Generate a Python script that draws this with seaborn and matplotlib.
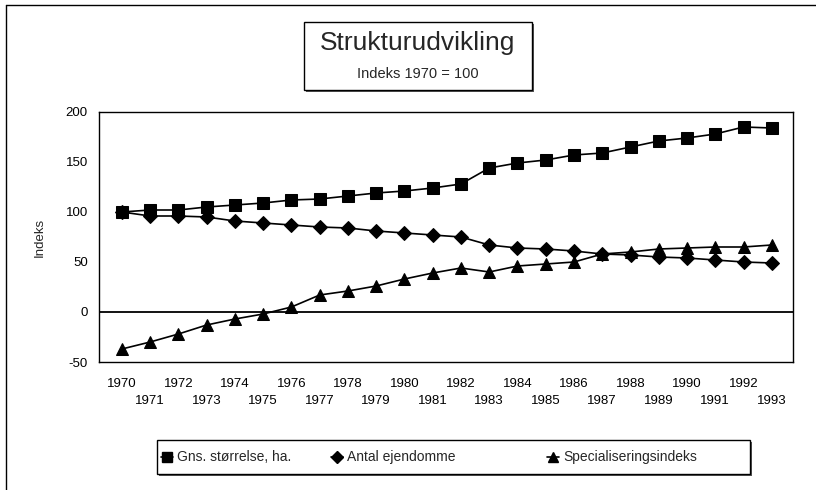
import numpy as np
import pandas as pd
import matplotlib
matplotlib.use("Agg")
import matplotlib.pyplot as plt
import seaborn as sns
from matplotlib.lines import Line2D
from matplotlib.patches import Rectangle

# ---- data ----
years = [str(y) for y in range(1970, 1994)]
gns = [100, 102, 102, 105, 107, 109, 112, 113, 116, 119, 121, 124, 128,
       144, 149, 152, 157, 159, 165, 171, 174, 178, 185, 184]
antal = [100, 96, 96, 95, 91, 89, 87, 85, 84, 81, 79, 77, 75,
         67, 64, 63, 61, 58, 57, 55, 54, 52, 50, 49]
spec = [-37, -30, -22, -13, -7, -2, 5, 17, 21, 26, 33, 39, 44,
        40, 46, 48, 50, 58, 60, 63, 64, 65, 65, 67]
series_names = ["Gns. størrelse, ha.", "Antal ejendomme", "Specialiseringsindeks"]
y_ticks = [-50, 0, 50, 100, 150, 200]
title = "Strukturudvikling"
subtitle = "Indeks 1970 = 100"
ylabel = "Indeks"

sns.set_style("white")
plt.rcParams["font.family"] = ["Liberation Sans", "DejaVu Sans"]

W, H = 816, 490
fig = plt.figure(figsize=(W / 100, H / 100), dpi=100)


def fx(px):
    return px / W


def fy(py):
    return 1 - py / H


ax = fig.add_axes([fx(99), fy(362), fx(793) - fx(99), fy(112) - fy(362)])

n = len(years)
df = pd.DataFrame({
    "pos": np.tile(np.arange(n), 3),
    "value": gns + antal + spec,
    "series": np.repeat(series_names, n),
})
marker_list = ["s", "D", "^"]
sizes = {"s": 8.5, "D": 7.0, "^": 9.0}
sns.lineplot(data=df, x="pos", y="value", hue="series", style="series",
             markers=marker_list, dashes=False, palette=["black"] * 3,
             linewidth=1.2, markersize=8, markeredgecolor="black",
             legend=False, ax=ax)
for line, m in zip(ax.get_lines(), marker_list):
    line.set_markersize(sizes[m])

ax.axhline(0, color="black", linewidth=1.3, zorder=1)
ax.set_xlim(-0.81, 23.75)
ax.set_ylim(-50, 200)
ax.set_yticks(y_ticks)
ax.set_yticklabels([str(v) for v in y_ticks])
ax.set_xticks(np.arange(n))
ax.set_xticklabels([y if i % 2 == 0 else "\n" + y for i, y in enumerate(years)],
                   linespacing=1.6)
ax.tick_params(axis="both", direction="in", length=5, width=0.9, colors="black",
               labelsize=9.5)
ax.tick_params(axis="y", pad=8)
ax.tick_params(axis="x", pad=11.5)
ax.set_xlabel("")
ax.set_ylabel(ylabel, fontsize=9.5, labelpad=14)
for s in ax.spines.values():
    s.set_visible(True)
    s.set_color("black")
    s.set_linewidth(1.0)

# outer chart border (top and left visible in the scan)
fig.add_artist(Line2D([fx(6), fx(816)], [fy(5), fy(5)], color="black",
                      linewidth=1.0, transform=fig.transFigure))
fig.add_artist(Line2D([fx(6), fx(6)], [fy(5), fy(490)], color="black",
                      linewidth=1.0, transform=fig.transFigure))

# title box with shadow
tx0, tx1, ty0, ty1 = 304, 532, 22, 90
fig.add_artist(Rectangle((fx(tx0 + 2), fy(ty1 + 2)), fx(tx1) - fx(tx0), fy(ty0) - fy(ty1),
                         transform=fig.transFigure, facecolor="#555555",
                         edgecolor="none", zorder=2))
fig.add_artist(Rectangle((fx(tx0), fy(ty1)), fx(tx1) - fx(tx0), fy(ty0) - fy(ty1),
                         transform=fig.transFigure, facecolor="white",
                         edgecolor="black", linewidth=1.0, zorder=3))
fig.text(fx((tx0 + tx1) / 2), fy(43), title, ha="center", va="center",
         fontsize=19, zorder=4)
fig.text(fx((tx0 + tx1) / 2), fy(74), subtitle, ha="center", va="center",
         fontsize=10.5, zorder=4)

# legend box with shadow
lx0, lx1, ly0, ly1 = 157, 750, 440, 474
fig.add_artist(Rectangle((fx(lx0 + 2), fy(ly1 + 2)), fx(lx1) - fx(lx0), fy(ly0) - fy(ly1),
                         transform=fig.transFigure, facecolor="#555555",
                         edgecolor="none", zorder=2))
fig.add_artist(Rectangle((fx(lx0), fy(ly1)), fx(lx1) - fx(lx0), fy(ly0) - fy(ly1),
                         transform=fig.transFigure, facecolor="white",
                         edgecolor="black", linewidth=1.0, zorder=3))
ly = (ly0 + ly1) / 2
for name, m, mx in zip(series_names, marker_list, [167, 337, 553]):
    fig.add_artist(Line2D([fx(mx - 6), fx(mx), fx(mx + 6)], [fy(ly)] * 3,
                          marker=m, markevery=[1], markersize=sizes[m] * 0.85,
                          color="black", linewidth=1.2,
                          transform=fig.transFigure, zorder=4))
    fig.text(fx(mx + 10), fy(ly), name, ha="left", va="center",
             fontsize=10, zorder=4)

fig.savefig("out.png", dpi=100)
